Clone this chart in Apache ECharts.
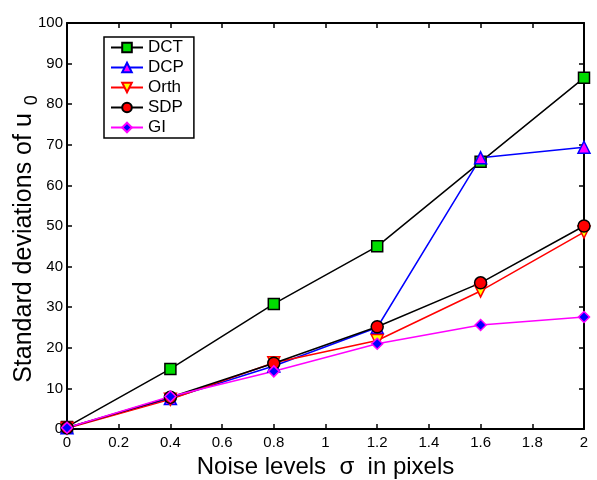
<!DOCTYPE html>
<html>
<head>
<meta charset="utf-8">
<title>Standard deviations</title>
<script src="https://cdn.jsdelivr.net/npm/echarts@6/dist/echarts.min.js"></script>
<style>
  html, body { margin: 0; padding: 0; background: #fff; }
  #chart1 { width: 597px; height: 480px; }
</style>
</head>
<body>
<div id="chart1"></div>
<script>
// noise levels (sigma, pixels)
var sigma = [0, 0.4, 0.8, 1.2, 1.6, 2];
var dct  = [0.5, 14.8, 30.8, 45.0, 65.8, 86.5];
var dcp  = [0.3, 7.5, 15.5, 25.0, 66.8, 69.4];
var orth = [0.2, 7.3, 16.3, 21.8, 34.0, 48.5];
var sdp  = [0.3, 7.8, 16.2, 25.2, 36.0, 50.0];
var gi   = [0.3, 8.0, 14.2, 21.0, 25.6, 27.6];

function pts(ys) {
  return sigma.map(function (x, i) { return [x, ys[i]]; });
}

function mkSeries(name, ys, lineColor, symbol, fill, border, size) {
  return {
    name: name,
    type: 'line',
    data: pts(ys),
    symbol: symbol,
    symbolSize: size,
    showAllSymbol: true,
    lineStyle: { color: lineColor, width: 1.5 },
    itemStyle: { color: fill, borderColor: border, borderWidth: 1.5 },
    emphasis: { disabled: true },
    animation: false
  };
}

var FONT = 'Liberation Sans, Arial, sans-serif';
var axisFont = { fontFamily: FONT, fontSize: 15, color: '#000' };
var myChart = echarts.init(document.getElementById('chart1'));
myChart.setOption({
  backgroundColor: '#fff',
  grid: { left: 67, right: 13, top: 23, bottom: 51, outerBoundsMode: 'none' },
  legend: {
    left: 104, top: 37,
    orient: 'vertical',
    itemGap: 3,
    itemWidth: 32, itemHeight: 12,
    padding: [2, 10, 2, 6],
    borderColor: '#000', borderWidth: 1.5,
    textStyle: { fontFamily: FONT, fontSize: 17, color: '#000' },
    data: ['DCT', 'DCP', 'Orth', 'SDP', 'GI']
  },
  xAxis: [{
    type: 'value', min: 0, max: 2, interval: 0.2,
    name: 'Noise levels  σ  in pixels',
    nameLocation: 'middle', nameGap: 26, nameMoveOverlap: false,
    nameTextStyle: { fontFamily: FONT, fontSize: 24, color: '#000' },
    axisLine: { onZero: false, lineStyle: { color: '#000', width: 2 } },
    axisTick: { inside: true, length: 5, lineStyle: { color: '#000', width: 1.5 } },
    axisLabel: Object.assign({ margin: 6 }, axisFont),
    splitLine: { show: false }
  }, {
    type: 'value', min: 0, max: 2, interval: 0.2, position: 'top',
    axisLine: { onZero: false, lineStyle: { color: '#000', width: 2 } },
    axisTick: { inside: true, length: 5, lineStyle: { color: '#000', width: 1.5 } },
    axisLabel: { show: false },
    splitLine: { show: false }
  }],
  yAxis: [{
    type: 'value', min: 0, max: 100, interval: 10,
    name: 'Standard deviations of u{sub|0}',
    nameLocation: 'middle', nameGap: 26, nameMoveOverlap: false,
    nameTextStyle: {
      fontFamily: FONT, fontSize: 25, color: '#000',
      padding: [0, 26, 0, 0],
      rich: { sub: { fontFamily: FONT, fontSize: 18, color: '#000', padding: [16, 0, 0, 8] } }
    },
    axisLine: { onZero: false, lineStyle: { color: '#000', width: 2 } },
    axisTick: { inside: true, length: 5, lineStyle: { color: '#000', width: 1.5 } },
    axisLabel: Object.assign({ margin: 4 }, axisFont),
    splitLine: { show: false }
  }, {
    type: 'value', min: 0, max: 100, interval: 10, position: 'right',
    axisLine: { onZero: false, lineStyle: { color: '#000', width: 2 } },
    axisTick: { inside: true, length: 5, lineStyle: { color: '#000', width: 1.5 } },
    axisLabel: { show: false },
    splitLine: { show: false }
  }],
  series: [
    mkSeries('DCT', dct, '#000', 'rect', '#00dd00', '#000', 11),
    mkSeries('DCP', dcp, '#0000ff', 'triangle', '#ff00ff', '#0000ff', 12),
    mkSeries('Orth', orth, '#ff0000', 'path://M0,0 L10,0 L5,9 Z', '#ffff00', '#ff0000', 12),
    mkSeries('SDP', sdp, '#000', 'circle', '#ff0000', '#000', 12),
    mkSeries('GI', gi, '#ff00ff', 'diamond', '#0000ff', '#ff00ff', 11)
  ]
});
</script>
</body>
</html>
